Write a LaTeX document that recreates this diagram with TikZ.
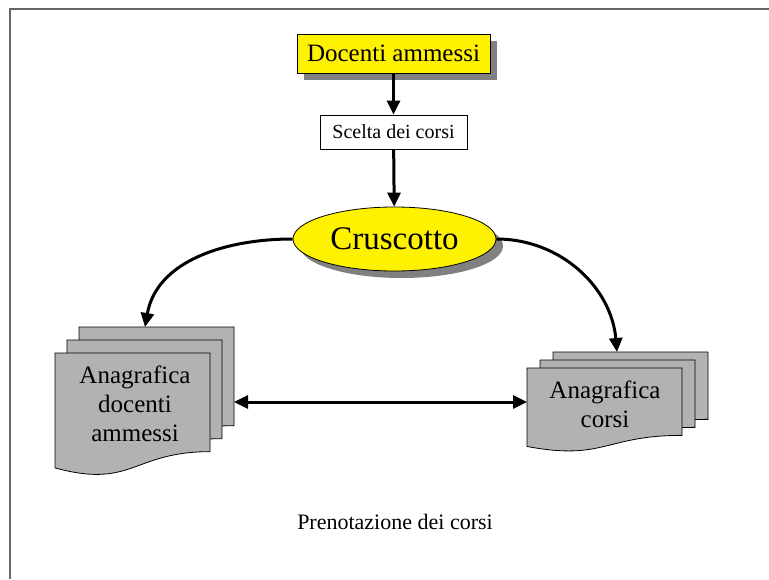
\documentclass[tikz,border=0pt]{standalone}
\usepackage{fontspec}
\setmainfont{Liberation Serif}
\usetikzlibrary{arrows.meta,shadows,shapes.geometric,calc}

\tikzset{
  flow/.style={line width=3pt, -{Triangle[length=14pt,width=13pt]}},
  biflow/.style={line width=3pt, {Triangle[length=14pt,width=13pt]}-{Triangle[length=14pt,width=13pt]}},
  sheet/.style={inner sep=0pt, outer sep=0pt, minimum width=155pt, anchor=north west},
  docline/.style={draw=black, fill=black!30, line width=0.8pt},
  doctext/.style={align=center, font=\fontsize{25}{29}\selectfont},
  shade7/.style={drop shadow={shadow xshift=7pt, shadow yshift=-7pt, fill=black!50, opacity=1}}
}

\begin{document}
\begin{tikzpicture}[x=1pt, y=-1pt]
  \useasboundingbox (0,0) rectangle (769,579);
  \draw[black!60, line width=1.5pt] (769,9) -- (10,9) -- (10,579);

  \begin{scope}[every node/.style={draw, line width=0.8pt, inner sep=0pt}]
\node[fill=yellow, shade7, minimum width=193pt, minimum height=39pt,
  font=\fontsize{25}{29}\selectfont](docenti) at (393.5,53.5) {Docenti ammessi};
\node[fill=white, minimum width=147pt, minimum height=34pt,
  font=\fontsize{20}{24}\selectfont](scelta) at (393.5,132) {Scelta dei corsi};
\node[ellipse, fill=yellow, shade7, minimum width=203pt, minimum height=64pt,
  font=\fontsize{33}{38}\selectfont](cruscotto) at (394.5,239) {Cruscotto};
  \end{scope}

% archivi
\node[sheet, minimum height=123pt](ldback) at (79,327) {};
\node[sheet, minimum height=123pt](ldmid) at (67,340) {};
\node[sheet, minimum height=123pt](ldfront) at (55,353) {};
\node[sheet, minimum height=84pt](rdback) at (553,352) {};
\node[sheet, minimum height=84pt](rdmid) at (540,360) {};
\node[sheet, minimum height=84pt](rdfront) at (527,368) {};

\foreach \s in {ldback,ldmid,ldfront,rdback,rdmid,rdfront}
  \draw[docline] (\s.north west) -- (\s.north east)
    -- ($(\s.north east)!0.802!(\s.south east)$)
    .. controls ($(\s.north)!0.802!(\s.south)$) and ($(\s.north)!1.107!(\s.south)$)
    .. ($(\s.north west)!0.934!(\s.south west)$) -- cycle;

\node[doctext](ldtext) at (135,404) {Anagrafica\\docenti\\ammessi};
\node[doctext](rdtext) at (605,404) {Anagrafica\\corsi};

\node[font=\fontsize{22}{26}\selectfont](titolo) at (395,522) {Prenotazione dei corsi};

\coordinate (lin) at (145,327);
\coordinate (rin) at (617,352);
\coordinate (link) at (0,402);

\draw[flow] (docenti) -- (scelta);
\draw[flow] (scelta) -- (cruscotto);
\draw[flow] (cruscotto.west) to[out=180, in=80] (lin);
\draw[flow] (cruscotto.east) to[out=0, in=95] (rin);
\draw[biflow] (ldback.east |- link) -- (rdfront.west |- link);
\end{tikzpicture}
\end{document}
